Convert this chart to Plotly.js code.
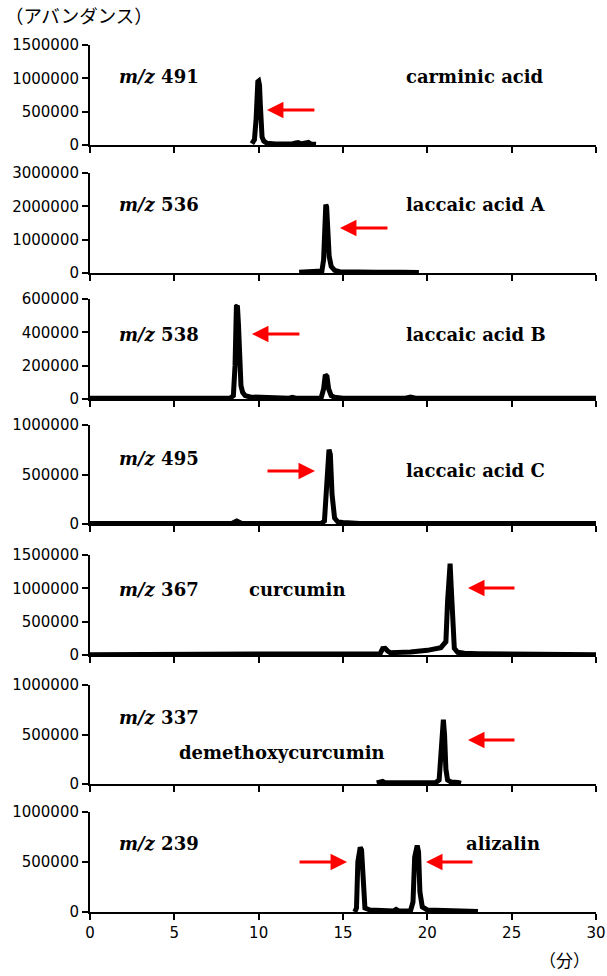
<!DOCTYPE html>
<html><head><meta charset="utf-8">
<script src="https://cdn.plot.ly/plotly-3.0.1.min.js"></script>
<style>html,body{margin:0;padding:0;background:#fff;}</style>
</head><body><div id="chart" style="width:607px;height:976px;"></div>
<script>
// ---- data ----
const xTickVals = [0, 5, 10, 15, 20, 25, 30];
const labelsMz = ["491", "536", "538", "495", "367", "337", "239"];
const compounds = ["carminic acid", "laccaic acid A", "laccaic acid B", "laccaic acid C", "curcumin", "demethoxycurcumin", "alizalin"];
const yMax = [1500000, 3000000, 600000, 1000000, 1500000, 1000000, 1000000];
const yDtick = [500000, 1000000, 200000, 500000, 500000, 500000, 500000];

const t491 = [9.6, 9.75, 9.85, 9.9, 9.95, 10.0, 10.05, 10.1, 10.15, 10.2, 10.3, 10.5, 11.0, 11.5, 12.0, 12.2, 12.35, 12.5, 12.8, 12.95, 13.1, 13.4];
const y491 = [20000, 80000, 400000, 800000, 950000, 960000, 900000, 600000, 250000, 120000, 60000, 25000, 15000, 12000, 15000, 30000, 35000, 15000, 20000, 40000, 15000, 10000];

const t536 = [12.4, 13.0, 13.5, 13.75, 13.85, 13.92, 13.98, 14.03, 14.1, 14.18, 14.3, 14.5, 14.8, 15.5, 17.0, 18.5, 19.5];
const y536 = [20000, 25000, 30000, 60000, 400000, 1500000, 2050000, 1980000, 1300000, 500000, 200000, 80000, 40000, 25000, 20000, 20000, 15000];

const t538 = [0, 2.1, 2.4, 2.7, 8.3, 8.5, 8.6, 8.68, 8.74, 8.8, 8.88, 8.95, 9.05, 9.2, 9.5, 10.0, 10.5, 11.8, 12.0, 12.2, 13.7, 13.85, 13.95, 14.05, 14.15, 14.3, 14.5, 15.0, 18.7, 19.0, 19.3, 30];
const y538 = [5000, 5000, 12000, 5000, 5000, 20000, 200000, 555000, 560000, 450000, 200000, 80000, 40000, 20000, 12000, 10000, 6000, 5000, 10000, 5000, 5000, 60000, 145000, 135000, 60000, 20000, 10000, 5000, 5000, 12000, 5000, 5000];

const t495 = [0, 8.4, 8.7, 9.0, 13.7, 13.9, 14.0, 14.1, 14.17, 14.25, 14.35, 14.5, 14.7, 15.0, 15.5, 16.0, 25.5, 25.8, 26.1, 30];
const y495 = [5000, 5000, 30000, 5000, 5000, 30000, 300000, 700000, 750000, 700000, 300000, 60000, 20000, 15000, 12000, 5000, 5000, 10000, 5000, 5000];

const t367 = [0, 15.8, 16.0, 16.2, 17.2, 17.35, 17.5, 17.65, 17.8, 19.0, 20.0, 20.8, 21.1, 21.2, 21.28, 21.35, 21.42, 21.5, 21.6, 21.8, 22.2, 23.0, 25.0, 25.2, 30];
const y367 = [5000, 5000, 15000, 5000, 20000, 95000, 100000, 60000, 35000, 45000, 70000, 110000, 200000, 800000, 1360000, 1370000, 1000000, 400000, 100000, 40000, 25000, 20000, 15000, 5000, 5000];

const t337 = [17.0, 17.2, 17.35, 17.5, 20.5, 20.7, 20.8, 20.88, 20.95, 21.02, 21.1, 21.2, 21.4, 21.8, 22.0];
const y337 = [10000, 25000, 25000, 12000, 15000, 40000, 300000, 640000, 650000, 500000, 150000, 40000, 20000, 15000, 8000];

const t239 = [15.7, 15.8, 15.88, 15.95, 16.02, 16.1, 16.18, 16.3, 16.6, 17.3, 17.6, 18.0, 18.15, 18.3, 19.0, 19.15, 19.25, 19.33, 19.4, 19.48, 19.56, 19.7, 20.0, 21.0, 22.5, 23.0];
const y239 = [0, 40000, 500000, 640000, 645000, 620000, 300000, 40000, 20000, 20000, 10000, 10000, 25000, 10000, 10000, 100000, 550000, 660000, 665000, 600000, 200000, 50000, 20000, 15000, 12000, 5000];

const series = [[t491, y491], [t536, y536], [t538, y538], [t495, y495], [t367, y367], [t337, y337], [t239, y239]];

// ---- layout helpers ----
const W = 607, H = 976, ML = 90, MR = 11, MT = 45, MB = 64;
const plotW = W - ML - MR, plotH = H - MT - MB;
const panelPx = [[45, 145], [173, 273], [299, 399], [425, 524], [555, 655], [685, 784], [812, 912]];
const py = p => (H - MB - p) / plotH;
const px = p => (p - ML) / plotW;

const traces = [];
const layout = {
  width: W, height: H,
  margin: {l: ML, r: MR, t: MT, b: MB},
  paper_bgcolor: '#fff', plot_bgcolor: '#fff',
  showlegend: false, hovermode: false,
  font: {family: 'DejaVu Sans', size: 15, color: '#000'},
  annotations: []
};

const serifFont = {family: 'DejaVu Serif', size: 18, color: '#000'};
const mzPos = [77, 205, 334, 458, 589, 717, 843];
const cmpPos = [[404, 77], [404, 205], [404, 334], [404, 470], [247, 589], [177, 752], [464, 843]];

series.forEach((s, i) => {
  const n = i === 0 ? '' : String(i + 1);
  traces.push({
    x: s[0], y: s[1], type: 'scatter', mode: 'lines',
    xaxis: 'x' + n, yaxis: 'y' + n,
    line: {color: '#000', width: 5}
  });
  const dom = [py(panelPx[i][1]), py(panelPx[i][0])];
  layout['xaxis' + n] = {
    domain: [0, 1], anchor: 'y' + n, range: [0, 30], tickvals: xTickVals,
    showticklabels: i === 6, showline: true, linecolor: '#000', linewidth: 2,
    ticks: 'outside', ticklen: 6, tickwidth: 2, tickcolor: '#000',
    showgrid: false, zeroline: false, fixedrange: true,
    tickfont: {family: 'DejaVu Sans', size: 15, color: '#000'}
  };
  layout['yaxis' + n] = {
    domain: dom, anchor: 'x' + n, range: [0, yMax[i]], dtick: yDtick[i], tick0: 0,
    tickformat: 'd', showline: true, linecolor: '#000', linewidth: 2,
    ticks: 'outside', ticklen: 6, tickwidth: 2, tickcolor: '#000',
    showgrid: false, zeroline: false, fixedrange: true,
    tickfont: {family: 'DejaVu Sans', size: 15, color: '#000'}
  };
  layout.annotations.push({
    xref: 'paper', yref: 'paper', x: px(117), y: py(mzPos[i]),
    xanchor: 'left', yanchor: 'middle', showarrow: false,
    text: '<b><i>m/z</i> ' + labelsMz[i] + '</b>', font: serifFont
  });
  layout.annotations.push({
    xref: 'paper', yref: 'paper', x: px(cmpPos[i][0]), y: py(cmpPos[i][1]),
    xanchor: 'left', yanchor: 'middle', showarrow: false,
    text: '<b>' + compounds[i] + '</b>', font: serifFont
  });
});

// red arrows: [panel index, head x (min), head y (abundance), tail offset px]
const arrows = [[0, 10.49, 525000, 49], [1, 14.82, 1350000, 49], [2, 9.60, 390000, 49],
  [3, 13.34, 535000, -49], [4, 22.41, 1005000, 48], [5, 22.41, 444000, 48],
  [6, 15.24, 500000, -49], [6, 19.92, 500000, 48]];
arrows.forEach(a => {
  const n = a[0] === 0 ? '' : String(a[0] + 1);
  layout.annotations.push({
    xref: 'x' + n, yref: 'y' + n, x: a[1], y: a[2], ax: a[3], ay: 0,
    text: '', showarrow: true, arrowhead: 2, arrowsize: 1.1, arrowwidth: 3,
    arrowcolor: '#ff0000', standoff: 0
  });
});

layout.annotations.push({
  xref: 'paper', yref: 'paper', x: px(3), y: py(15), xanchor: 'left', yanchor: 'middle',
  showarrow: false, text: '（アバンダンス）',
  font: {family: 'Noto Sans CJK JP', size: 18.5, color: '#000'}
});
layout.annotations.push({
  xref: 'paper', yref: 'paper', x: px(564), y: py(959), xanchor: 'center', yanchor: 'middle',
  showarrow: false, text: '（分）',
  font: {family: 'Noto Sans CJK JP', size: 17, color: '#000'}
});

Plotly.newPlot('chart', traces, layout, {displayModeBar: false, staticPlot: true});
</script></body></html>
